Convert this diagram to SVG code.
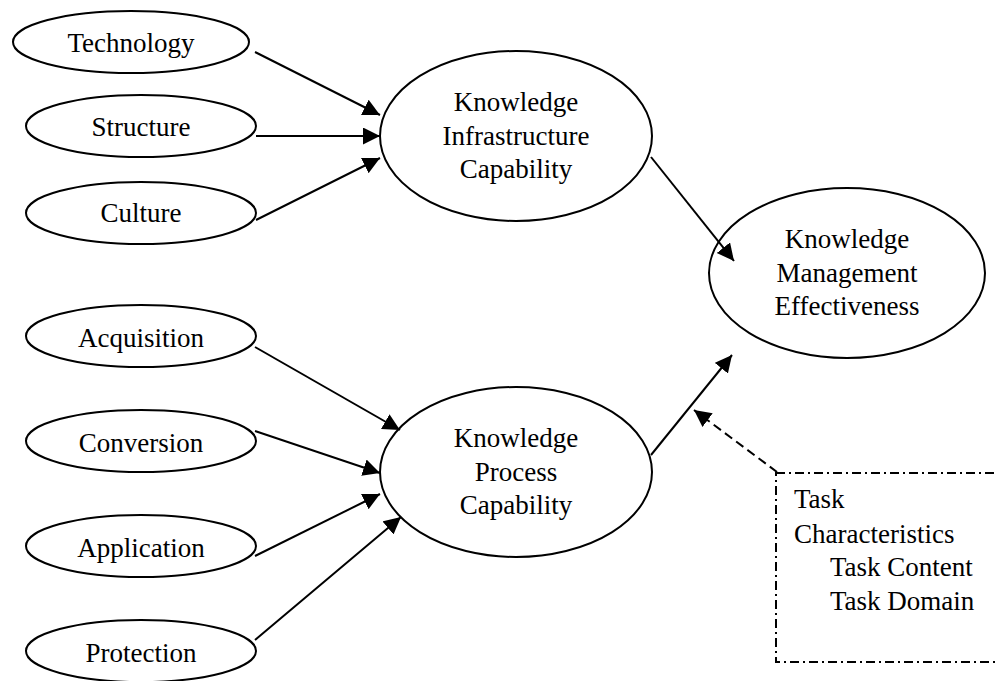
<svg xmlns="http://www.w3.org/2000/svg" width="998" height="681" viewBox="0 0 998 681">
<style>
.n{fill:#fff;stroke:#000;stroke-width:2}
text{font-family:"Liberation Serif","Times New Roman",Tinos,"DejaVu Serif",serif;font-size:27px;fill:#000}
.c{text-anchor:middle}
.e{stroke:#000;stroke-width:2;fill:none}
.d{stroke-dasharray:9 5}
.dd{fill:none;stroke:#000;stroke-width:2;stroke-dasharray:9 4 2 4}
</style>
<defs>
<marker id="ah" markerUnits="userSpaceOnUse" markerWidth="18" markerHeight="18" refX="17" refY="8.5" orient="auto">
<path d="M0,0 L17,8.5 L0,17 Z" fill="#000"/>
</marker>
</defs>
<g id="technology"><ellipse class="n" cx="131" cy="42" rx="118" ry="31"/><text class="c" x="131" y="52">Technology</text></g>
<g id="structure"><ellipse class="n" cx="141" cy="126" rx="115" ry="31"/><text class="c" x="141" y="136">Structure</text></g>
<g id="culture"><ellipse class="n" cx="141" cy="213" rx="115" ry="31"/><text class="c" x="141" y="222">Culture</text></g>
<g id="infrastructure"><ellipse class="n" cx="516" cy="136" rx="136" ry="85"/>
<text class="c" x="516" y="111">Knowledge</text><text class="c" x="516" y="145">Infrastructure</text><text class="c" x="516" y="178">Capability</text></g>
<g id="kme"><ellipse class="n" cx="847" cy="273" rx="138" ry="85"/>
<text class="c" x="847" y="248">Knowledge</text><text class="c" x="847" y="282">Management</text><text class="c" x="847" y="315">Effectiveness</text></g>
<g id="acquisition"><ellipse class="n" cx="141" cy="336" rx="115" ry="31"/><text class="c" x="141" y="347">Acquisition</text></g>
<g id="conversion"><ellipse class="n" cx="141" cy="441" rx="115" ry="31"/><text class="c" x="141" y="452">Conversion</text></g>
<g id="application"><ellipse class="n" cx="141" cy="546" rx="115" ry="31"/><text class="c" x="141" y="557">Application</text></g>
<g id="protection"><ellipse class="n" cx="141" cy="651" rx="115" ry="31"/><text class="c" x="141" y="662">Protection</text></g>
<g id="process"><ellipse class="n" cx="516" cy="472" rx="136" ry="85"/>
<text class="c" x="516" y="447">Knowledge</text><text class="c" x="516" y="481">Process</text><text class="c" x="516" y="514">Capability</text></g>
<g id="task">
<rect class="dd" x="776" y="473" width="240" height="189"/>
<text x="794" y="508">Task</text>
<text x="794" y="543">Characteristics</text>
<text x="830" y="576">Task Content</text>
<text x="830" y="610">Task Domain</text>
</g>
<g id="connectors">
<line class="e" x1="255" y1="52" x2="380" y2="115" marker-end="url(#ah)"/>
<line class="e" x1="256" y1="136" x2="380" y2="136" marker-end="url(#ah)"/>
<line class="e" x1="256" y1="220" x2="380" y2="158" marker-end="url(#ah)"/>
<line class="e" x1="651" y1="157" x2="734" y2="261" marker-end="url(#ah)"/>
<line class="e" x1="255" y1="347" x2="400" y2="430" marker-end="url(#ah)"/>
<line class="e" x1="255" y1="431" x2="380" y2="473" marker-end="url(#ah)"/>
<line class="e" x1="255" y1="556" x2="380" y2="494" marker-end="url(#ah)"/>
<line class="e" x1="255" y1="640" x2="401" y2="517" marker-end="url(#ah)"/>
<line class="e" x1="651" y1="455" x2="732" y2="355" marker-end="url(#ah)"/>
<line class="e d" x1="777" y1="472" x2="694" y2="410" marker-end="url(#ah)"/>
</g>
</svg>
